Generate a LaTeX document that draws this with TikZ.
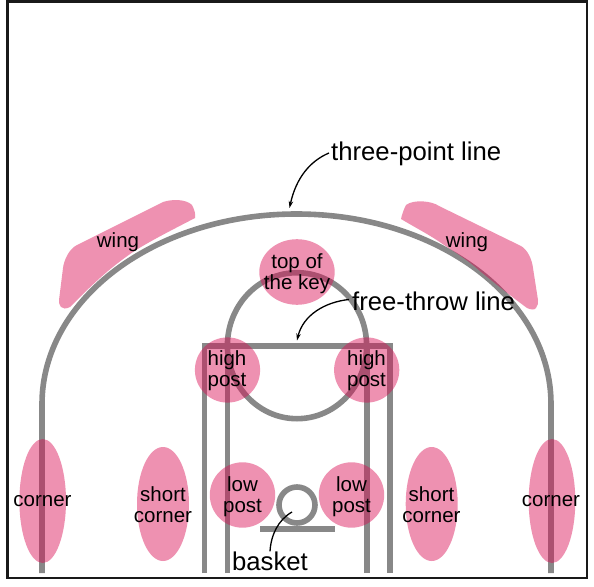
\documentclass[tikz,border=0pt]{standalone}
\usepackage{fontspec}
\setmainfont{Liberation Sans}
\usetikzlibrary{arrows.meta}
\definecolor{courtgrey}{RGB}{136,136,136}
\definecolor{zonepink}{RGB}{218,13,84}
\tikzset{
  x=1pt,y=-1pt,
  courtline/.style={draw=courtgrey,line width=5.6pt},
  zonefill/.style={fill=zonepink,fill opacity=.45,draw=none},
  lab/.style={font=\fontsize{20.5}{20.9}\selectfont,align=center,inner sep=0pt,text=black},
  biglab/.style={font=\fontsize{25.7}{26}\selectfont,inner sep=0pt,text=black},
  callout/.style={draw=black,line width=1.3pt,-{Stealth[length=7pt,width=4.5pt]}},
}
\begin{document}
\begin{tikzpicture}
\useasboundingbox (0,0) rectangle (594,586);
\fill[white] (0,0) rectangle (594,586);
% court
\draw[courtline] (42,573) -- (42,404) .. controls (42,299) and (155,214) .. (296.5,214) .. controls (438,214) and (551,299) .. (551,404) -- (551,573);
\draw[courtline] (204.5,573) -- (204.5,345.7) -- (389.7,345.7) -- (389.7,573);
\draw[courtline] (227.5,573) -- (227.5,345.7);
\draw[courtline] (366.7,573) -- (366.7,345.7);
\draw[courtline] (297,345.7) ellipse [x radius=69.6,y radius=73];
\draw[courtline] (297,505) circle [radius=18];
\draw[courtline] (260,529) -- (334.7,529);
% zones
\fill[zonefill] (42.7,501) ellipse [x radius=23.3,y radius=62];
\fill[zonefill] (552,501) ellipse [x radius=23.3,y radius=62];
\fill[zonefill] (163,504) ellipse [x radius=26,y radius=57];
\fill[zonefill] (431.7,504) ellipse [x radius=26,y radius=57];
\fill[zonefill] (242.5,495) circle [radius=32.7];
\fill[zonefill] (351.5,495) circle [radius=32.7];
\fill[zonefill] (227.5,370) circle [radius=32.6];
\fill[zonefill] (366.7,370) circle [radius=32.6];
\fill[zonefill] (297,272) ellipse [x radius=37.7,y radius=32.8];
\fill[zonefill] (163,202) .. controls (172,199) and (186,199) .. (192,205) .. controls (194,209) and (196,214) .. (195,218)
  .. controls (172,230) and (150,241) .. (133,252) .. controls (120,261) and (110,269) .. (100,278) .. controls (90,287) and (80,297) .. (70,307)
  .. controls (66,309) and (63,309) .. (61,307) .. controls (59,305) and (59,302) .. (59,300) -- (63,268)
  .. controls (64,260) and (69,249) .. (77,245) -- cycle;
\fill[zonefill] (439,206) .. controls (432,201) and (414,199) .. (406,205) .. controls (404,209) and (402,214) .. (401,219)
  .. controls (416,228) and (430,235) .. (444,245) .. controls (458,254) and (470,262) .. (481,272) .. controls (497,285) and (512,297) .. (527,308)
  .. controls (531,310) and (535,310) .. (536,308) .. controls (538,306) and (538,303) .. (538,300) -- (533,268)
  .. controls (532,260) and (528,250) .. (521,246) -- cycle;
% labels
\node[lab] (cornerL) at (42.5,501.5) {corner};
\node[lab] (cornerR) at (551,501.5) {corner};
\node[lab] (shortL) at (163,505) {short\\corner};
\node[lab] (shortR) at (431.5,505) {short\\corner};
\node[lab] (lowL) at (242.5,496.5) {low\\post};
\node[lab] (lowR) at (351.5,496.5) {low\\post};
\node[lab] (highL) at (227,371) {high\\post};
\node[lab] (highR) at (366.5,371) {high\\post};
\node[lab] (key) at (297,273.5) {top of\\the key};
\node[lab] (wingL) at (118,242) {wing};
\node[lab] (wingR) at (467,242) {wing};
\node[biglab,anchor=west] (three) at (331,154) {three-point line};
\node[biglab,anchor=west] (free) at (352,301.5) {free-throw line};
\node[biglab] (basket) at (270,561) {basket};
\coordinate (threeTip) at (289.5,208);
\coordinate (freeTip) at (297,340.5);
\coordinate (basketTip) at (292,512);
\draw[callout] ([shift={(-2,-1)}]three.west) .. controls (310,161) and (296,178) .. (threeTip);
\draw[callout] ([shift={(-3,-2)}]free.west) .. controls (325,302) and (303,315) .. (freeTip);
\draw[draw=black,line width=1.3pt] (basket.north) .. controls (271,535) and (278,520) .. (basketTip);
% frame
\draw[black!90,line width=2.5pt] (7.5,1.5) rectangle (587,578);
\end{tikzpicture}
\end{document}
